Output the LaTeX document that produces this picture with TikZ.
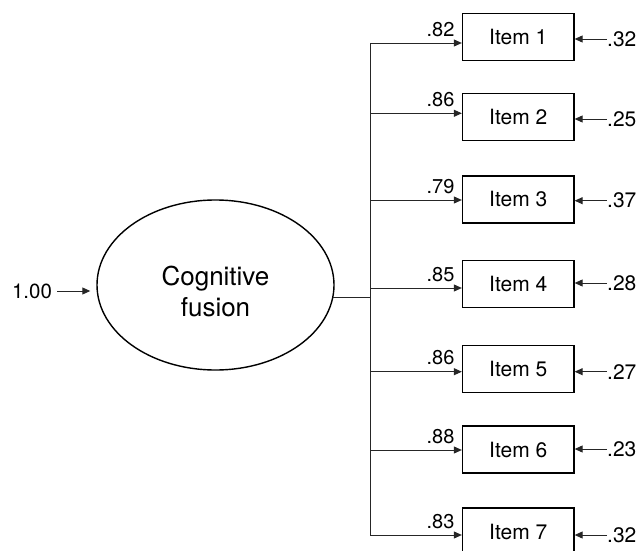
\documentclass[tikz,border=0pt]{standalone}
\usepackage{fontspec}
\setmainfont{TeX Gyre Heros}
\usepackage{tikz}
\usetikzlibrary{arrows.meta}
\usetikzlibrary{shapes.geometric}
\newcommand{\bigtxt}{\fontsize{26}{31}\selectfont}
\newcommand{\midtxt}{\fontsize{21}{25}\selectfont}
\newcommand{\smalltxt}{\fontsize{20}{24}\selectfont}

\tikzset{
  conn/.style={line width=0.9pt, draw=black!85},
  arr/.style={conn, -{Triangle[length=8pt,width=7pt]}},
  factor/.style={ellipse, draw, line width=1.4pt, minimum width=237pt, minimum height=170pt, inner sep=0pt},
  facname/.style={align=center, font=\bigtxt, inner sep=0pt},
  itembox/.style={rectangle, draw, line width=1.3pt, minimum width=111.5pt, minimum height=47pt, font=\midtxt},
  loadlab/.style={anchor=south east, inner sep=0pt, xshift=-7pt, yshift=6pt, font=\smalltxt},
  errlab/.style={anchor=west, inner sep=0pt, font=\midtxt},
  varlab/.style={inner sep=5pt, font=\fontsize{20.5}{24}\selectfont}
}

\begin{document}
\begin{tikzpicture}[x=1pt,y=-1pt]
\useasboundingbox (0,0) rectangle (637,551);

\node[factor] (fac) at (215.5,285) {}; %latent factor
\node[facname] (facname) at (215.5,291) {Cognitive\\fusion};
\node[varlab] (var) at (32,291) {1.00};
\draw[arr, shorten >=6pt] (var.east) -- (var.east -| fac.west);

\coordinate (s1) at (370,43); %trunk points
\coordinate (s2) at (370,113.3);
\coordinate (s3) at (370,200);
\coordinate (s4) at (370,288);
\coordinate (s5) at (370,371.7);
\coordinate (s6) at (370,450);
\coordinate (s7) at (370,535);
\draw[conn] (fac.-6.2) -- (fac.-6.2 -| s1);
\draw[conn] (s1) -- (s7);

\node[itembox] (item1) at (518.25,37) {Item 1}; %item 1
\draw[arr] (s1) -- (s1 -| item1.west) node[loadlab] {.82};
\node[errlab] (e1) at (607,39) {.32};
\draw[arr] (e1.west) -- (e1.west -| item1.east);

\node[itembox] (item2) at (518.25,117) {Item 2}; %item 2
\draw[arr] (s2) -- (s2 -| item2.west) node[loadlab] {.86};
\node[errlab] (e2) at (607,119) {.25};
\draw[arr] (e2.west) -- (e2.west -| item2.east);

\node[itembox] (item3) at (518.25,199.5) {Item 3}; %item 3
\draw[arr] (s3) -- (s3 -| item3.west) node[loadlab] {.79};
\node[errlab] (e3) at (607,200.7) {.37};
\draw[arr] (e3.west) -- (e3.west -| item3.east);

\node[itembox] (item4) at (518.25,284) {Item 4}; %item 4
\draw[arr] (s4) -- (s4 -| item4.west) node[loadlab] {.85};
\node[errlab] (e4) at (607,283) {.28};
\draw[arr] (e4.west) -- (e4.west -| item4.east);

\node[itembox] (item5) at (518.25,369) {Item 5}; %item 5
\draw[arr] (s5) -- (s5 -| item5.west) node[loadlab] {.86};
\node[errlab] (e5) at (607,371.7) {.27};
\draw[arr] (e5.west) -- (e5.west -| item5.east);

\node[itembox] (item6) at (518.25,449.5) {Item 6}; %item 6
\draw[arr] (s6) -- (s6 -| item6.west) node[loadlab] {.88};
\node[errlab] (e6) at (607,449) {.23};
\draw[arr] (e6.west) -- (e6.west -| item6.east);

\node[itembox] (item7) at (518.25,531.5) {Item 7}; %item 7
\draw[arr] (s7) -- (s7 -| item7.west) node[loadlab] {.83};
\node[errlab] (e7) at (607,535) {.32};
\draw[arr] (e7.west) -- (e7.west -| item7.east);
\end{tikzpicture}
\end{document}
